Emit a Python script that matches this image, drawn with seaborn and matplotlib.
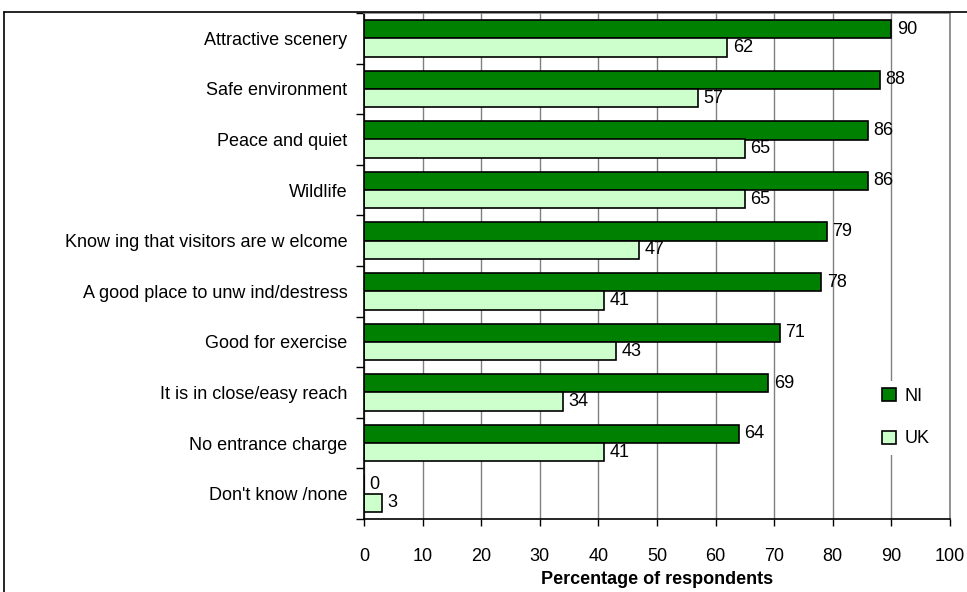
import matplotlib
matplotlib.use('Agg')
import numpy as np
import pandas as pd
import matplotlib.pyplot as plt
import seaborn as sns
from matplotlib.lines import Line2D

# data
items = ['Attractive scenery', 'Safe environment', 'Peace and quiet', 'Wildlife',
         'Know ing that visitors are w elcome', 'A good place to unw ind/destress',
         'Good for exercise', 'It is in close/easy reach', 'No entrance charge',
         "Don't know /none"]
ni_values = [90, 88, 86, 86, 79, 78, 71, 69, 64, 0]
uk_values = [62, 57, 65, 65, 47, 41, 43, 34, 41, 3]
x_ticks = list(range(0, 101, 10))

df = pd.DataFrame({
    'item': items * 2,
    'series': ['NI'] * len(items) + ['UK'] * len(items),
    'value': ni_values + uk_values,
})

sns.set_style('white')
plt.rcParams['font.family'] = ['Liberation Sans', 'DejaVu Sans']
plt.rcParams['text.color'] = 'black'
plt.rcParams['xtick.color'] = 'black'
plt.rcParams['ytick.color'] = 'black'
plt.rcParams['axes.labelcolor'] = 'black'

fig = plt.figure(figsize=(9.67, 5.92), dpi=100)
ax = fig.add_axes([364 / 967, 1 - 519 / 592, (950 - 364) / 967, (519 - 13) / 592])

sns.barplot(data=df, y='item', x='value', hue='series', orient='h',
            palette={'NI': '#008000', 'UK': '#CCFFCC'}, saturation=1, width=0.72,
            edgecolor='black', linewidth=1.2, ax=ax)

for cont in ax.containers:
    ax.bar_label(cont, fmt='%g', padding=4, fontsize=13)

ax.set_xlim(0, 100)
ax.set_ylim(len(items) - 0.5, -0.5)
ax.set_xticks(x_ticks)
ax.set_xticklabels([str(t) for t in x_ticks], fontsize=13)
ax.tick_params(axis='x', length=5, width=1, color='black', pad=16, direction='out', bottom=True)
ax.tick_params(axis='y', which='major', length=0, pad=12, labelsize=13)
ax.set_yticks(np.arange(-0.5, len(items), 1), minor=True)
ax.tick_params(axis='y', which='minor', length=6, width=1, color='black', direction='out', left=True)

ax.grid(axis='x', color='#808080', linewidth=1)
ax.set_axisbelow(True)
for s in ['top', 'right']:
    ax.spines[s].set_color('#808080')
for s in ['left', 'bottom']:
    ax.spines[s].set_color('black')
for s in ax.spines.values():
    s.set_linewidth(1.2)

ax.set_ylabel('')
ax.set_xlabel('Percentage of respondents', fontsize=13, fontweight='bold', labelpad=4)

leg = ax.legend(loc='center', bbox_to_anchor=(0.925, 0.2), fontsize=13,
                handlelength=0.75, handleheight=0.75, labelspacing=1.4,
                handletextpad=0.5, frameon=True, facecolor='white',
                edgecolor='none', framealpha=1, title=None)

# outer chart border (cropped at the right and bottom)
fig.add_artist(Line2D([4 / 967, 4 / 967], [0, 1 - 12 / 592], transform=fig.transFigure,
                      color='black', linewidth=1.2))
fig.add_artist(Line2D([4 / 967, 1], [1 - 12 / 592, 1 - 12 / 592], transform=fig.transFigure,
                      color='black', linewidth=1.2))

fig.savefig('out.png', dpi=100)
